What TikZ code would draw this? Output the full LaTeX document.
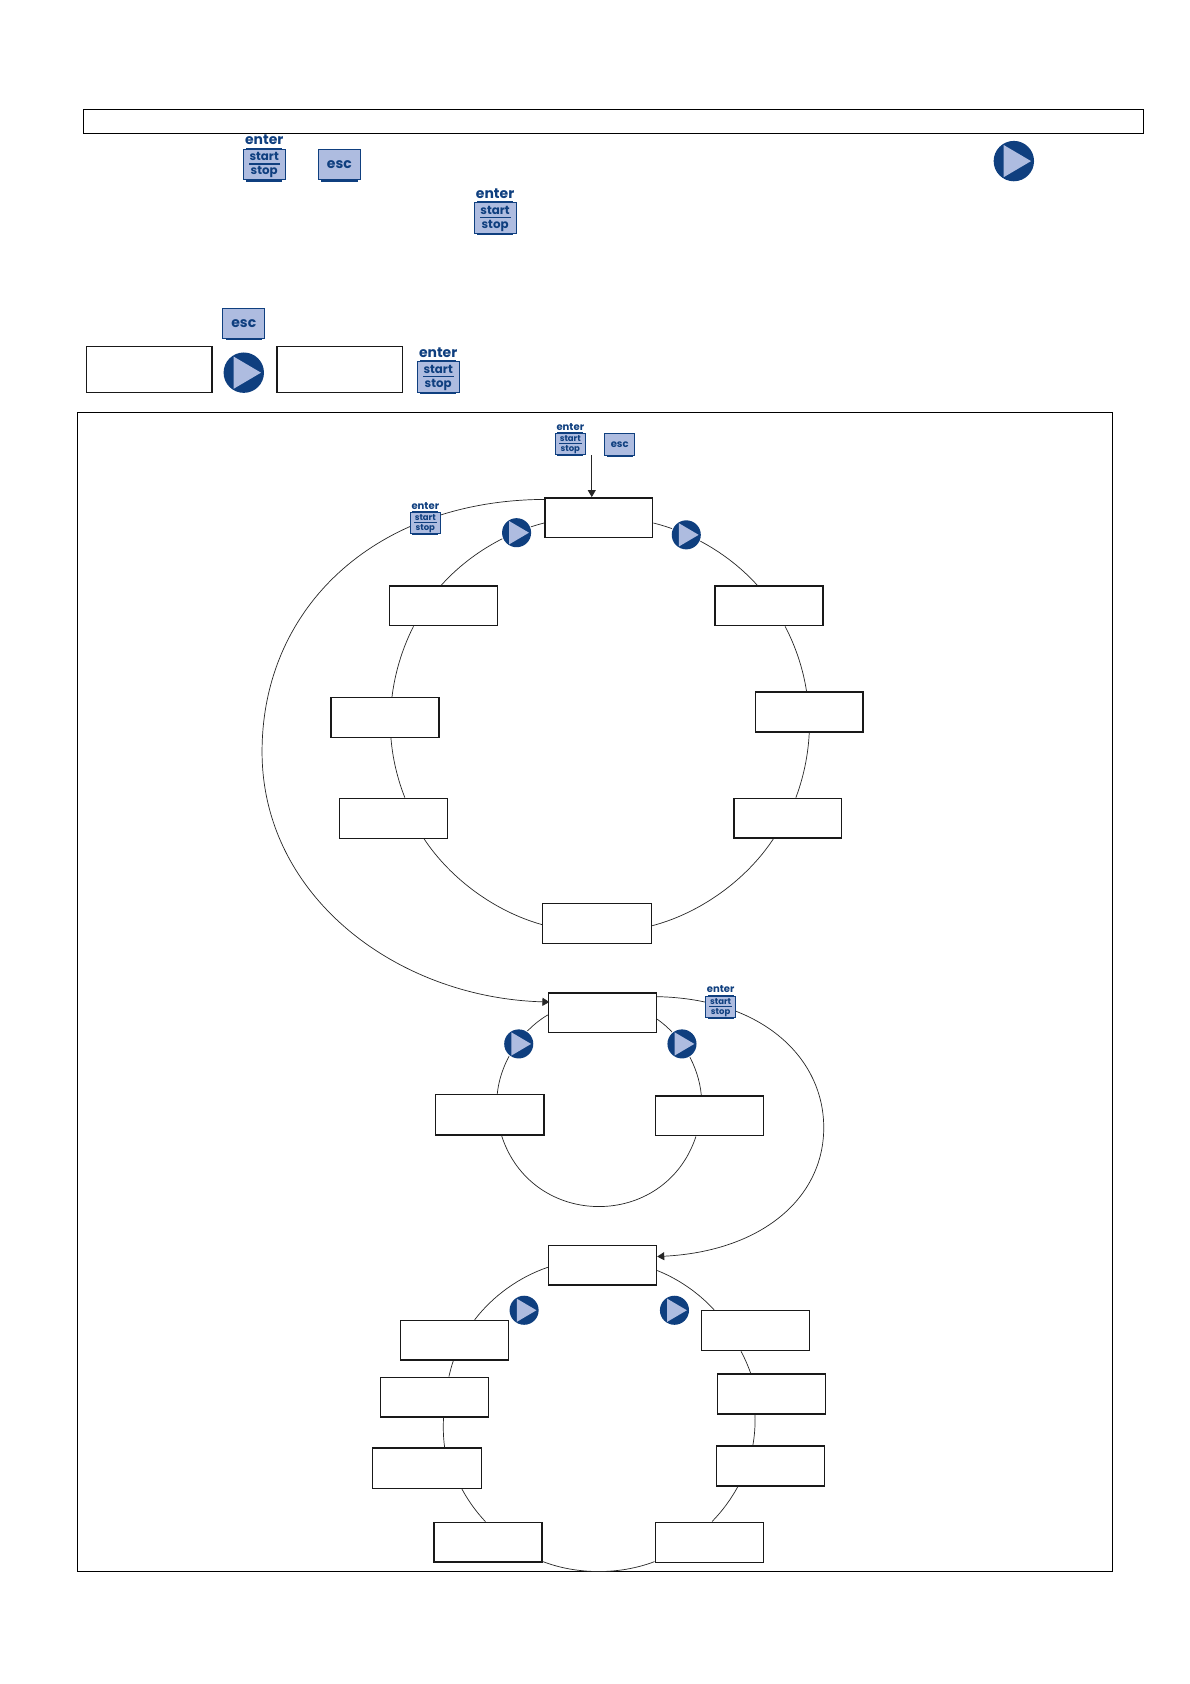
\documentclass[tikz,border=0pt]{standalone}
\usepackage{fontspec}
\usetikzlibrary{arrows.meta}
\newfontfamily\keyfont{Poppins}
\definecolor{keydark}{HTML}{0F3F7F}
\definecolor{keylight}{HTML}{AEBCE0}
\tikzset{
  x=1pt,y=-1pt,
  frameline/.style={draw=black,line width=.8pt},
  boxthick/.style={draw=black!90,fill=white,line width=1.4pt,minimum width=100.5pt,minimum height=37pt,inner sep=0pt},
  boxthin/.style={draw=black!90,fill=white,line width=1.05pt,minimum width=101pt,minimum height=37.5pt,inner sep=0pt},
  boxbig/.style={draw=black!90,fill=white,line width=1.4pt,minimum width=117pt,minimum height=43pt,inner sep=0pt},
  ring/.style={draw=black!85,line width=.65pt},
  flow/.style={draw=black!85,line width=.65pt,-{Triangle[length=6.5pt,width=7.5pt]}},
  keytext/.style={text=keydark,inner sep=0pt,font=\keyfont\bfseries\fontsize{11}{12}\selectfont},
  enterkey/.pic={
    \fill[white] (-20,-28) rectangle (20,14);
    \fill[keydark] (-17,-15.5) rectangle (17,-14);
    \fill[keydark] (-17,14) rectangle (17,16);
    \draw[keydark,fill=keylight,line width=.9pt] (-19.5,-14) rectangle (19.5,14);
    \fill[keydark] (-14.5,-1.2) rectangle (14.5,.4);
    \node[keytext,font=\keyfont\bfseries\fontsize{13}{14}\selectfont] (-enter) at (0,-22.5) {enter};
    \node[keytext] (-start) at (0,-7) {start};
    \node[keytext] (-stop) at (0,7) {stop};
  },
  esckey/.pic={
    \fill[keydark] (-17,14) rectangle (17,16);
    \draw[keydark,fill=keylight,line width=.9pt] (-19.5,-14) rectangle (19.5,14);
    \node[keytext,font=\keyfont\bfseries\fontsize{13}{14}\selectfont] (-esc) at (0,0) {esc};
  },
  playkey/.pic={
    \fill[white] (0,0) circle (20);
    \fill[keydark] (0,0) circle (18.8);
    \fill[keylight] (-9.5,-15) -- (16,0) -- (-9.5,15) -- cycle;
  },
  smallkey/.style={scale=.72,transform shape},
}
\begin{document}
\begin{tikzpicture}
\useasboundingbox (0,0) rectangle (1108,1568);
\fill[white] (0,0) rectangle (1108,1568);
% outer boxes
\node[frameline,minimum width=987pt,minimum height=23pt,inner sep=0pt] (title) at (571.5,113) {};
\node[frameline,minimum width=964pt,minimum height=1079pt,inner sep=0pt] (frame) at (554,923.5) {};
\node[boxbig] (legA) at (139,344) {};
\node[boxbig] (legB) at (316.5,344) {};
% first ring
\node[boxthick] (t1) at (557.5,482) {};
\node[boxthick] (ru) at (716,564) {};
\node[boxthick] (rm) at (753.5,663) {};
\node[boxthick] (rl) at (733.5,762) {};
\node[boxthin] (bo) at (556,860) {};
\node[boxthin] (ll) at (366.5,762) {};
\node[boxthick] (lm) at (358.5,668) {};
\node[boxthick] (lu) at (413,564) {};
% second ring
\node[boxthick] (t2) at (561,943) {};
\node[boxthin] (l2) at (456,1038) {};
\node[boxthick] (r2) at (660.5,1039) {};
% third ring
\node[boxthick] (t3) at (561,1178) {};
\node[boxthin] (a3) at (703.5,1239) {};
\node[boxthick] (b3) at (718.5,1298) {};
\node[boxthick] (c3) at (717.5,1365) {};
\node[boxthin] (d3) at (660.5,1436) {};
\node[boxthick] (e3) at (454.5,1436) {};
\node[boxthin] (f3) at (397.5,1367) {};
\node[boxthick] (g3) at (404.5,1301) {};
\node[boxthick] (h3) at (423,1248) {};
% ring 1 connectors
\draw[ring] ([yshift=-5pt]t1.east) to[bend left=17,looseness=.85] ([xshift=-11pt]ru.north);
\draw[ring] ([xshift=15pt]ru.south) to[bend left=9.5,looseness=.85] ([xshift=-2.5pt]rm.north);
\draw[ring] (rm.south) to[bend left=9,looseness=.85] ([xshift=7.5pt]rl.north);
\draw[ring] ([xshift=-13.5pt]rl.south) to[bend left=21,looseness=.85] ([yshift=-2pt]bo.east);
\draw[ring] ([yshift=-1pt]bo.west) to[bend left=20.5,looseness=.85] ([xshift=28.5pt]ll.south);
\draw[ring] ([xshift=10.5pt]ll.north) to[bend left=8.5,looseness=.85] ([xshift=5.5pt]lm.south);
\draw[ring] ([xshift=6.5pt]lm.north) to[bend left=10,looseness=.85] ([xshift=-28pt]lu.south);
\draw[ring] ([xshift=-2pt]lu.north) to[bend left=17,looseness=.85] ([yshift=-5pt]t1.west);
% ring 2 connectors
\draw[ring] ([yshift=-6pt]t2.east) to[bend left=25,looseness=.86] ([xshift=-7.5pt]r2.north);
\draw[ring] ([xshift=-12.5pt]r2.south) to[bend left=72,looseness=1.3] ([xshift=11pt]l2.south);
\draw[ring] ([xshift=7pt]l2.north) to[bend left=27,looseness=.86] ([yshift=-2pt]t2.west);
% ring 3 connectors
\draw[ring] ([yshift=-5pt]t3.east) to[bend left=13,looseness=.85] ([xshift=-38.5pt]a3.north);
\draw[ring] ([xshift=-13.5pt]a3.south) to[bend left=4.5,looseness=.85] ([xshift=-19.5pt]b3.north);
\draw[ring] ([xshift=-15.5pt]b3.south) to[bend left=6,looseness=.85] ([xshift=-16.5pt]c3.north);
\draw[ring] ([xshift=-30.5pt]c3.south) to[bend left=8,looseness=.85] ([xshift=2.5pt]d3.north);
\draw[ring] ([yshift=-18pt]d3.west) to[bend left=21,looseness=.85] ([yshift=-18pt]e3.east);
\draw[ring] ([xshift=-2.5pt]e3.north) to[bend left=7.5,looseness=.85] ([xshift=32.5pt]f3.south);
\draw[ring] ([xshift=16.5pt]f3.north) to[bend left=5.5,looseness=.85] ([xshift=8.5pt]g3.south);
\draw[ring] ([xshift=13.5pt]g3.north) to[bend left=3,looseness=.85] ([xshift=-1pt]h3.south);
\draw[ring] ([xshift=19pt]h3.north) to[bend left=17,looseness=.85] ([yshift=-2pt]t3.west);
% long connectors
\coordinate (entry) at (551,424);
\draw[flow] (entry) -- ([xshift=-6.5pt]t1.north);
\draw[flow] ([yshift=17pt]t1.west) .. controls (350,466) and (244,565) .. (244,700) .. controls (244,835) and (370,929) .. ([xshift=1.5pt,yshift=10pt]t2.west);
\draw[flow] ([yshift=15pt]t2.east) .. controls (710,930) and (767,985) .. (767,1050) .. controls (767,1115) and (710,1165) .. ([yshift=8pt]t3.east);
% big keys
\pic (k1) at (246,153) {enterkey};
\pic (k2) at (316,153) {esckey};
\pic (k3) at (944,150) {playkey};
\pic (k4) at (461,203) {enterkey};
\pic (k5) at (227,301) {esckey};
\pic (k6) at (227,347) {playkey};
\pic (k7) at (408,351) {enterkey};
% small keys
\pic[smallkey] (s1) at (531,413.5) {enterkey};
\pic[smallkey] (s2) at (577,414) {esckey};
\pic[smallkey] (s3) at (396,487) {enterkey};
\pic[smallkey] (s4) at (671,937.5) {enterkey};
\pic[smallkey] (p1) at (481,496) {playkey};
\pic[smallkey] (p2) at (639,498) {playkey};
\pic[smallkey] (p3) at (483,972) {playkey};
\pic[smallkey] (p4) at (635,972) {playkey};
\pic[smallkey] (p5) at (488,1220) {playkey};
\pic[smallkey] (p6) at (628,1220) {playkey};
\end{tikzpicture}
\end{document}
